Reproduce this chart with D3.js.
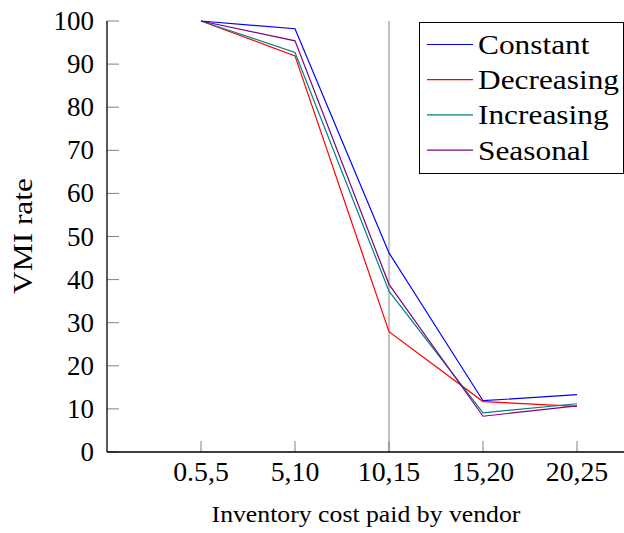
<!DOCTYPE html>
<html>
<head>
<meta charset="utf-8">
<script src="https://cdn.jsdelivr.net/npm/d3@7"></script>
<style>
  body { margin: 0; background: #fff; }
  text { font-family: "Liberation Serif", "DejaVu Serif", serif; fill: #000; }
</style>
</head>
<body>
<svg id="chart"></svg>
<script>
const width = 624;
const height = 533;

const categories = ['0.5,5', '5,10', '10,15', '15,20', '20,25'];
const seriesNames = ['Constant', 'Decreasing', 'Increasing', 'Seasonal'];
const constant = [100, 98.2, 46.2, 11.9, 13.3];
const decreasing = [100, 91.9, 27.9, 11.7, 10.6];
const increasing = [100, 92.7, 37.3, 9.1, 11.2];
const seasonal = [100, 95.4, 38.9, 8.3, 10.7];
const yTicks = [0, 10, 20, 30, 40, 50, 60, 70, 80, 90, 100];
const markerCategory = '10,15';

const colors = ['#0000ff', '#ff0000', '#008080', '#800080'];
const series = [constant, decreasing, increasing, seasonal];

const svg = d3.select('#chart').attr('width', width).attr('height', height);

// x positions are category index 1..5, axis starts at index 0
const x = d3.scaleLinear().domain([0, 6]).range([107, 671]);
const y = d3.scaleLinear().domain([0, 100]).range([452, 21]);

// latex font letters are wider than Times, so stretch words a bit (digits are the same)
function label(g, px, py, size, anchor, txt, rot, wide) {
    return g.append('text')
        .attr('transform', `translate(${px},${py})${rot ? ' rotate(' + rot + ')' : ''} scale(${wide || 1.12},1)`)
        .attr('text-anchor', anchor)
        .attr('font-family', '"Liberation Serif", serif')
        .style('font-size', size + 'px')
        .text(txt);
}

// vertical reference line
const mx = x(categories.indexOf(markerCategory) + 1);
svg.append('line')
    .attr('x1', mx).attr('x2', mx)
    .attr('y1', y(100)).attr('y2', y(0))
    .attr('stroke', '#c4c4c4').attr('stroke-width', 2.2);

// ticks (inside, gray)
svg.selectAll('.ytick').data(yTicks).enter().append('line')
    .attr('x1', x(0)).attr('x2', x(0) + 12)
    .attr('y1', d => y(d)).attr('y2', d => y(d))
    .attr('stroke', '#808080').attr('stroke-width', 1);
svg.selectAll('.xtick').data(categories).enter().append('line')
    .attr('x1', (d, i) => x(i + 1)).attr('x2', (d, i) => x(i + 1))
    .attr('y1', y(0)).attr('y2', y(0) - 11)
    .attr('stroke', '#808080').attr('stroke-width', 1);

// axis lines
svg.append('line').attr('x1', x(0)).attr('x2', x(0)).attr('y1', y(100)).attr('y2', y(0))
    .attr('stroke', '#000').attr('stroke-width', 1.3);
svg.append('line').attr('x1', x(0)).attr('x2', width + 5).attr('y1', y(0)).attr('y2', y(0))
    .attr('stroke', '#000').attr('stroke-width', 1.3);

// tick labels
yTicks.forEach(t => label(svg, x(0) - 13, y(t) + 9, 27, 'end', t, 0, 1));
categories.forEach((c, i) => label(svg, x(i + 1), 481, 27, 'middle', c, 0, 1.03));

// axis titles
label(svg, 366, 522, 23, 'middle', 'Inventory cost paid by vendor');
label(svg, 32, 236, 28, 'middle', 'VMI rate', -90);

// lines
const line = d3.line().x((d, i) => x(i + 1)).y(d => y(d));
svg.selectAll('.series').data(series).enter().append('path')
    .attr('d', d => line(d))
    .attr('fill', 'none')
    .attr('stroke', (d, i) => colors[i])
    .attr('stroke-width', 1.2)
    .attr('stroke-linejoin', 'miter');

// legend
const legend = svg.append('g');
legend.append('rect').attr('x', 419.5).attr('y', 22.5).attr('width', 204).attr('height', 151)
    .attr('fill', '#fff').attr('stroke', '#000').attr('stroke-width', 1);
seriesNames.forEach((name, i) => {
    const ly = 44.5 + i * 35.2;
    legend.append('line').attr('x1', 427).attr('x2', 473).attr('y1', ly).attr('y2', ly)
        .attr('stroke', colors[i]).attr('stroke-width', 1.2);
    label(legend, 478, ly + 9.5, 28, 'start', name);
});
</script>
</body>
</html>
